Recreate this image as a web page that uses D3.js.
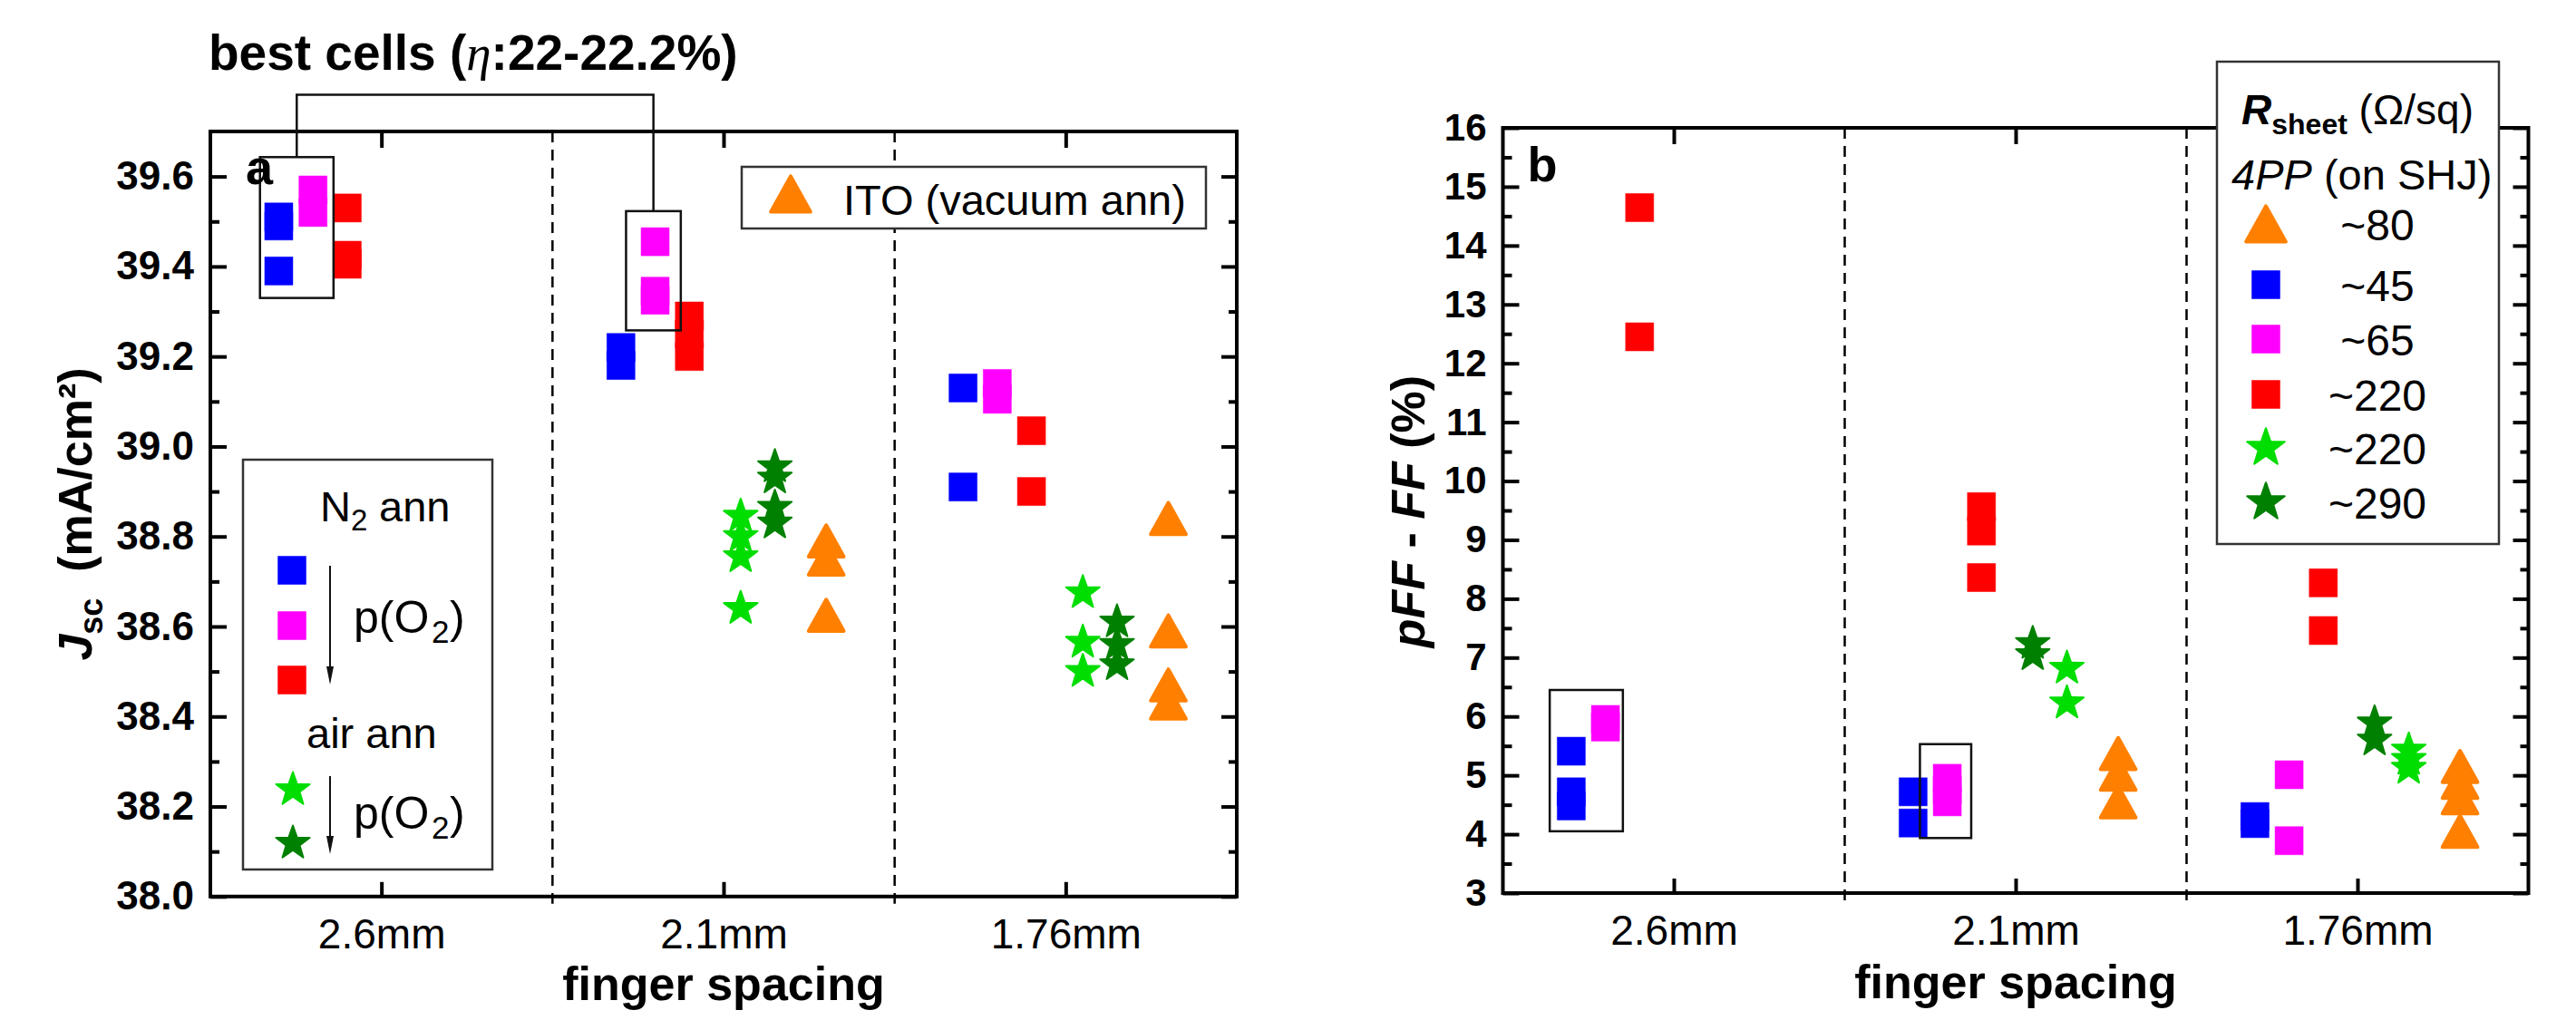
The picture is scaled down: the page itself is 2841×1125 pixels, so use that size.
<!DOCTYPE html>
<html>
<head>
<meta charset="utf-8">
<script src="https://cdn.jsdelivr.net/npm/d3@7"></script>
<style>
  body { margin: 0; background: #fff; }
  svg { display: block; font-family: "Liberation Sans", Arial, sans-serif; }
  .axis text { fill: #000; }
  .axis line { stroke: #000; stroke-width: 4; }
</style>
</head>
<body>
<svg id="chart" width="2841" height="1125"></svg>
<script>

// Data ////////////////////////////////////
// one inner array per finger spacing (2.6mm, 2.1mm, 1.76mm)

const categories = ["2.6mm", "2.1mm", "1.76mm"];

const jscTicks = [38.0, 38.2, 38.4, 38.6, 38.8, 39.0, 39.2, 39.4, 39.6];
const pffTicks = [3, 4, 5, 6, 7, 8, 9, 10, 11, 12, 13, 14, 15, 16];

// Jsc (mA/cm2)
const jscBlue = [[39.51, 39.49, 39.39], [39.22, 39.18], [39.13, 38.91]];
const jscMagenta = [[39.57, 39.52], [39.455, 39.345, 39.325], [39.14, 39.105]];
const jscRed = [[39.53, 39.425, 39.405], [39.29, 39.25, 39.20], [39.035, 38.90]];
const jscLightGreen = [[], [38.845, 38.80, 38.755, 38.64], [38.675, 38.565, 38.50]];
const jscDarkGreen = [[], [38.955, 38.93, 38.865, 38.83], [38.61, 38.56, 38.515]];
const jscOrange = [[], [38.79, 38.75, 38.625], [38.84, 38.59, 38.47, 38.43]];

// pFF - FF (%)
const pffBlue = [[5.41, 4.72, 4.48], [4.72, 4.19], [4.30, 4.18]];
const pffMagenta = [[5.95, 5.82], [4.95, 4.75, 4.55], [5.01, 3.89]];
const pffRed = [[14.645, 12.45], [9.565, 9.15, 8.36], [8.27, 7.46]];
const pffLightGreen = [[], [6.82, 6.23], [5.43, 5.27, 5.12]];
const pffDarkGreen = [[], [7.24, 7.05], [5.89, 5.60]];
const pffOrange = [[], [5.37, 5.02, 4.55], [5.15, 4.88, 4.62, 4.05]];

// best-cell frames, in data units [x0, x1, y0, y1]
const jscFrames = [[0.645, 0.86, 39.33, 39.643], [1.715, 1.875, 39.258, 39.523]];
const pffFrames = [[0.637, 0.851, 4.05, 6.45], [1.72, 1.87, 3.935, 5.53]];

const rsheetLabels = ["~80", "~45", "~65", "~220", "~220", "~290"];

// Styles ////////////////////////////////////

const colors = {
    blue: "#0000ff", magenta: "#ff00ff", red: "#ff0000",
    light: "#00dd00", dark: "#008000", orange: "#ff8000"
};

const shapes = {
    blue: "square", magenta: "square", red: "square",
    light: "star", dark: "star", orange: "triangle"
};

// horizontal offset of each series from its finger-spacing position
const offsetsA = { blue: -0.30, magenta: -0.20, red: -0.10, light: 0.05, dark: 0.15, orange: 0.30 };
const offsetsB = { blue: -0.30, magenta: -0.20, red: -0.10, dark: 0.05, light: 0.15, orange: 0.30 };

function symbolPath(shape, k = 1) {
    if (shape === "square") {
        const s = 31 * k;
        return `M${-s / 2},${-s / 2}h${s}v${s}h${-s}Z`;
    }
    if (shape === "triangle") {
        const w = 38.7 * k, h = 34.7 * k;
        return `M0,${-h / 2}L${w / 2},${h / 2}L${-w / 2},${h / 2}Z`;
    }
    // star
    const R = 19.5 * k, r = R * 0.40;
    const pts = d3.range(10).map(i => {
        const a = -Math.PI / 2 + i * Math.PI / 5;
        const rr = i % 2 ? r : R;
        return [rr * Math.cos(a), rr * Math.sin(a)];
    });
    return "M" + pts.map(p => p.join(",")).join("L") + "Z";
}

function strokeWidth(shape) {
    return shape === "triangle" ? 4 : shape === "star" ? 2 : 0.5;
}

const svg = d3.select("#chart");

// Panels ////////////////////////////////////

function drawPanel(cfg) {

    const x = d3.scaleLinear().domain([0.5, 3.5]).range([cfg.left, cfg.right]);
    const y = d3.scaleLinear().domain(cfg.domain).range([cfg.bottom, cfg.top]);
    const g = svg.append("g");

    // dashed separators
    g.append("g")
        .selectAll("line")
        .data([1.5, 2.5])
        .join("line")
        .attr("x1", d => x(d)).attr("x2", d => x(d))
        .attr("y1", cfg.top).attr("y2", cfg.bottom + 8)
        .attr("stroke", "#000")
        .attr("stroke-width", 2.5)
        .attr("stroke-dasharray", "12,8");

    // y axes
    g.append("g")
        .attr("class", "axis")
        .attr("transform", `translate(${cfg.left},0)`)
        .call(d3.axisLeft(y).tickValues(cfg.ticks).tickFormat(cfg.format)
            .tickSizeInner(-18).tickSizeOuter(0).tickPadding(18))
        .call(a => a.select(".domain").remove())
        .call(a => a.selectAll("text")
            .attr("font-size", cfg.tickFont).attr("font-weight", "bold"));

    g.append("g")
        .attr("class", "axis")
        .attr("transform", `translate(${cfg.left},0)`)
        .call(d3.axisLeft(y).tickValues(cfg.minor).tickFormat("")
            .tickSizeInner(-10).tickSizeOuter(0))
        .call(a => a.select(".domain").remove());

    g.append("g")
        .attr("class", "axis")
        .attr("transform", `translate(${cfg.right},0)`)
        .call(d3.axisRight(y).tickValues(cfg.ticks).tickFormat("")
            .tickSizeInner(-17).tickSizeOuter(0))
        .call(a => a.select(".domain").remove());

    g.append("g")
        .attr("class", "axis")
        .attr("transform", `translate(${cfg.right},0)`)
        .call(d3.axisRight(y).tickValues(cfg.minor).tickFormat("")
            .tickSizeInner(-9).tickSizeOuter(0))
        .call(a => a.select(".domain").remove());

    // x axes
    g.append("g")
        .attr("class", "axis")
        .attr("transform", `translate(0,${cfg.bottom})`)
        .call(d3.axisBottom(x).tickValues([1, 2, 3]).tickFormat(d => categories[d - 1])
            .tickSizeInner(-16).tickSizeOuter(0))
        .call(a => a.select(".domain").remove())
        .call(a => a.selectAll("text")
            .attr("dy", null).attr("y", cfg.xLabelY)
            .attr("font-size", 46));

    g.append("g")
        .attr("class", "axis")
        .attr("transform", `translate(0,${cfg.top})`)
        .call(d3.axisTop(x).tickValues([1, 2, 3]).tickFormat("")
            .tickSizeInner(-18).tickSizeOuter(0))
        .call(a => a.select(".domain").remove());

    // frame
    g.append("rect")
        .attr("x", cfg.left).attr("y", cfg.top)
        .attr("width", cfg.right - cfg.left)
        .attr("height", cfg.bottom - cfg.top)
        .attr("fill", "none")
        .attr("stroke", "#000")
        .attr("stroke-width", 4);

    // markers
    ["blue", "magenta", "red", "light", "dark", "orange"].forEach(key => {
        const dx = cfg.offsets[key];
        const points = cfg.data[key].flatMap((vals, i) => vals.map(v => ({ c: i + 1, v })));
        g.append("g")
            .selectAll("path")
            .data(points)
            .join("path")
            .attr("transform", d => `translate(${x(d.c + dx)},${y(d.v)})`)
            .attr("d", symbolPath(shapes[key]))
            .attr("fill", colors[key])
            .attr("stroke", colors[key])
            .attr("stroke-width", strokeWidth(shapes[key]))
            .attr("stroke-linejoin", "round");
    });

    // best-cell frames
    g.append("g")
        .selectAll("rect")
        .data(cfg.frames)
        .join("rect")
        .attr("x", d => x(d[0])).attr("y", d => y(d[3]))
        .attr("width", d => x(d[1]) - x(d[0]))
        .attr("height", d => y(d[2]) - y(d[3]))
        .attr("fill", "none")
        .attr("stroke", "#111")
        .attr("stroke-width", 2.5);

    // axis title
    g.append("text")
        .attr("x", (cfg.left + cfg.right) / 2)
        .attr("y", cfg.xTitleY)
        .attr("text-anchor", "middle")
        .attr("font-size", 52)
        .attr("font-weight", "bold")
        .text("finger spacing");

    // panel letter
    g.append("text")
        .attr("x", cfg.left + cfg.letterDx)
        .attr("y", cfg.letterY)
        .attr("font-size", 54)
        .attr("font-weight", "bold")
        .text(cfg.letter);

    return { g, x, y };
}

const left = drawPanel({
    left: 232, right: 1364, top: 145, bottom: 988.8,
    domain: [38.0, 39.7],
    ticks: jscTicks,
    minor: d3.range(8).map(i => 38.1 + i * 0.2),
    format: d3.format(".1f"),
    tickFont: 44,
    xLabelY: 57, xTitleY: 1103,
    letter: "a", letterDx: 39, letterY: 203,
    frames: jscFrames,
    offsets: offsetsA,
    data: {
        blue: jscBlue, magenta: jscMagenta, red: jscRed,
        light: jscLightGreen, dark: jscDarkGreen, orange: jscOrange
    }
});

const right = drawPanel({
    left: 1657.5, right: 2788.5, top: 141, bottom: 985,
    domain: [3, 16],
    ticks: pffTicks,
    minor: d3.range(13).map(i => 3.5 + i),
    format: d3.format("d"),
    tickFont: 42,
    xLabelY: 57, xTitleY: 1101,
    letter: "b", letterDx: 27, letterY: 200,
    frames: pffFrames,
    offsets: offsetsB,
    data: {
        blue: pffBlue, magenta: pffMagenta, red: pffRed,
        light: pffLightGreen, dark: pffDarkGreen, orange: pffOrange
    }
});

// Y titles ////////////////////////////////////

const yTitleL = svg.append("text")
    .attr("transform", "translate(101,567) rotate(-90)")
    .attr("text-anchor", "middle")
    .attr("font-size", 52)
    .attr("font-weight", "bold");
yTitleL.append("tspan").attr("font-style", "italic").text("J");
yTitleL.append("tspan").attr("font-size", 36).attr("dy", 12).text("sc");
yTitleL.append("tspan").attr("dy", -12).text("\u00a0 (mA/cm\u00b2)");

const yTitleR = svg.append("text")
    .attr("transform", "translate(1571,564) rotate(-90)")
    .attr("text-anchor", "middle")
    .attr("font-size", 52)
    .attr("font-weight", "bold");
yTitleR.append("tspan").attr("font-style", "italic").text("pFF");
yTitleR.append("tspan").text(" - ");
yTitleR.append("tspan").attr("font-style", "italic").text("FF");
yTitleR.append("tspan").text(" (%)");

// Best cells annotation ////////////////////////////////////

const title = svg.append("text")
    .attr("x", 230).attr("y", 77)
    .attr("font-size", 55)
    .attr("font-weight", "bold");
title.append("tspan").text("best cells (");
title.append("tspan")
    .attr("font-family", "'Liberation Serif', serif")
    .attr("font-style", "italic")
    .attr("font-weight", "normal")
    .text("\u03b7");
title.append("tspan").text(":22-22.2%)");

{
    const { x, y } = left;
    const f0 = jscFrames[0], f1 = jscFrames[1];
    const xa = x((f0[0] + f0[1]) / 2), xb = x((f1[0] + f1[1]) / 2);
    const yTop = 104.6;
    svg.append("path")
        .attr("d", `M${xa},${y(f0[3])}V${yTop}H${xb}V${y(f1[3])}`)
        .attr("fill", "none")
        .attr("stroke", "#111")
        .attr("stroke-width", 2.5);
}

// Legends ////////////////////////////////////

function marker(g, key, cx, cy, k = 1) {
    g.append("path")
        .attr("transform", `translate(${cx},${cy})`)
        .attr("d", symbolPath(shapes[key], k))
        .attr("fill", colors[key])
        .attr("stroke", colors[key])
        .attr("stroke-width", strokeWidth(shapes[key]))
        .attr("stroke-linejoin", "round");
}

function arrow(g, x, y1, y2) {
    g.append("line")
        .attr("x1", x).attr("x2", x).attr("y1", y1).attr("y2", y2 - 16)
        .attr("stroke", "#111").attr("stroke-width", 2);
    g.append("path")
        .attr("d", `M${x - 4},${y2 - 20}L${x + 4},${y2 - 20}L${x},${y2}Z`)
        .attr("fill", "#111");
}

// ITO legend (panel a)
{
    const g = svg.append("g");
    g.append("rect")
        .attr("x", 818).attr("y", 184).attr("width", 512).attr("height", 68)
        .attr("fill", "#fff").attr("stroke", "#333").attr("stroke-width", 2.5);
    marker(g, "orange", 872, 214, 1.13);
    g.append("text")
        .attr("x", 930).attr("y", 237)
        .attr("font-size", 47)
        .text("ITO (vacuum ann)");
}

// annealing legend (panel a)
{
    const g = svg.append("g");
    g.append("rect")
        .attr("x", 268).attr("y", 507).attr("width", 275).attr("height", 452)
        .attr("fill", "#fff").attr("stroke", "#333").attr("stroke-width", 2.5);

    g.append("text").attr("x", 353).attr("y", 575).attr("font-size", 47).text("N");
    g.append("text").attr("x", 387).attr("y", 585).attr("font-size", 33).text("2");
    g.append("text").attr("x", 418).attr("y", 575).attr("font-size", 47).text("ann");

    marker(g, "blue", 322, 629);
    marker(g, "magenta", 322, 690);
    marker(g, "red", 322, 750);
    arrow(g, 364, 624, 755);

    const pO2 = (yb) => {
        g.append("text").attr("x", 390).attr("y", yb).attr("font-size", 50).text("p(O");
        g.append("text").attr("x", 476).attr("y", yb + 11).attr("font-size", 35).text("2");
        g.append("text").attr("x", 496).attr("y", yb).attr("font-size", 50).text(")");
    };
    pO2(698);

    g.append("text").attr("x", 338).attr("y", 825).attr("font-size", 47).text("air ann");

    marker(g, "light", 323, 871);
    marker(g, "dark", 323, 930);
    arrow(g, 364, 856, 942);
    pO2(914);
}

// sheet resistance legend (panel b)
{
    const g = svg.append("g");
    g.append("rect")
        .attr("x", 2445).attr("y", 68).attr("width", 311).attr("height", 532)
        .attr("fill", "#fff").attr("stroke", "#333").attr("stroke-width", 2.5);

    const h1 = g.append("text").attr("x", 2472).attr("y", 137).attr("font-size", 46);
    h1.append("tspan").attr("font-weight", "bold").attr("font-style", "italic").text("R");
    h1.append("tspan").attr("font-weight", "bold").attr("font-size", 32).attr("dy", 11).text("sheet");
    h1.append("tspan").attr("dy", -11).text(" (\u03a9/sq)");

    const h2 = g.append("text").attr("x", 2461).attr("y", 209).attr("font-size", 47);
    h2.append("tspan").attr("font-style", "italic").text("4PP");
    h2.append("tspan").text(" (on SHJ)");

    const rows = [
        { key: "orange", cy: 247, k: 1.13 },
        { key: "blue", cy: 314, k: 1 },
        { key: "magenta", cy: 374, k: 1 },
        { key: "red", cy: 435, k: 1 },
        { key: "light", cy: 494, k: 1.12 },
        { key: "dark", cy: 554, k: 1.12 }
    ];
    rows.forEach((r, i) => {
        marker(g, r.key, 2499, r.cy, r.k);
        g.append("text")
            .attr("x", 2622).attr("y", r.cy + 18)
            .attr("text-anchor", "middle")
            .attr("font-size", 48)
            .text(rsheetLabels[i]);
    });
}

</script>
</body>
</html>
